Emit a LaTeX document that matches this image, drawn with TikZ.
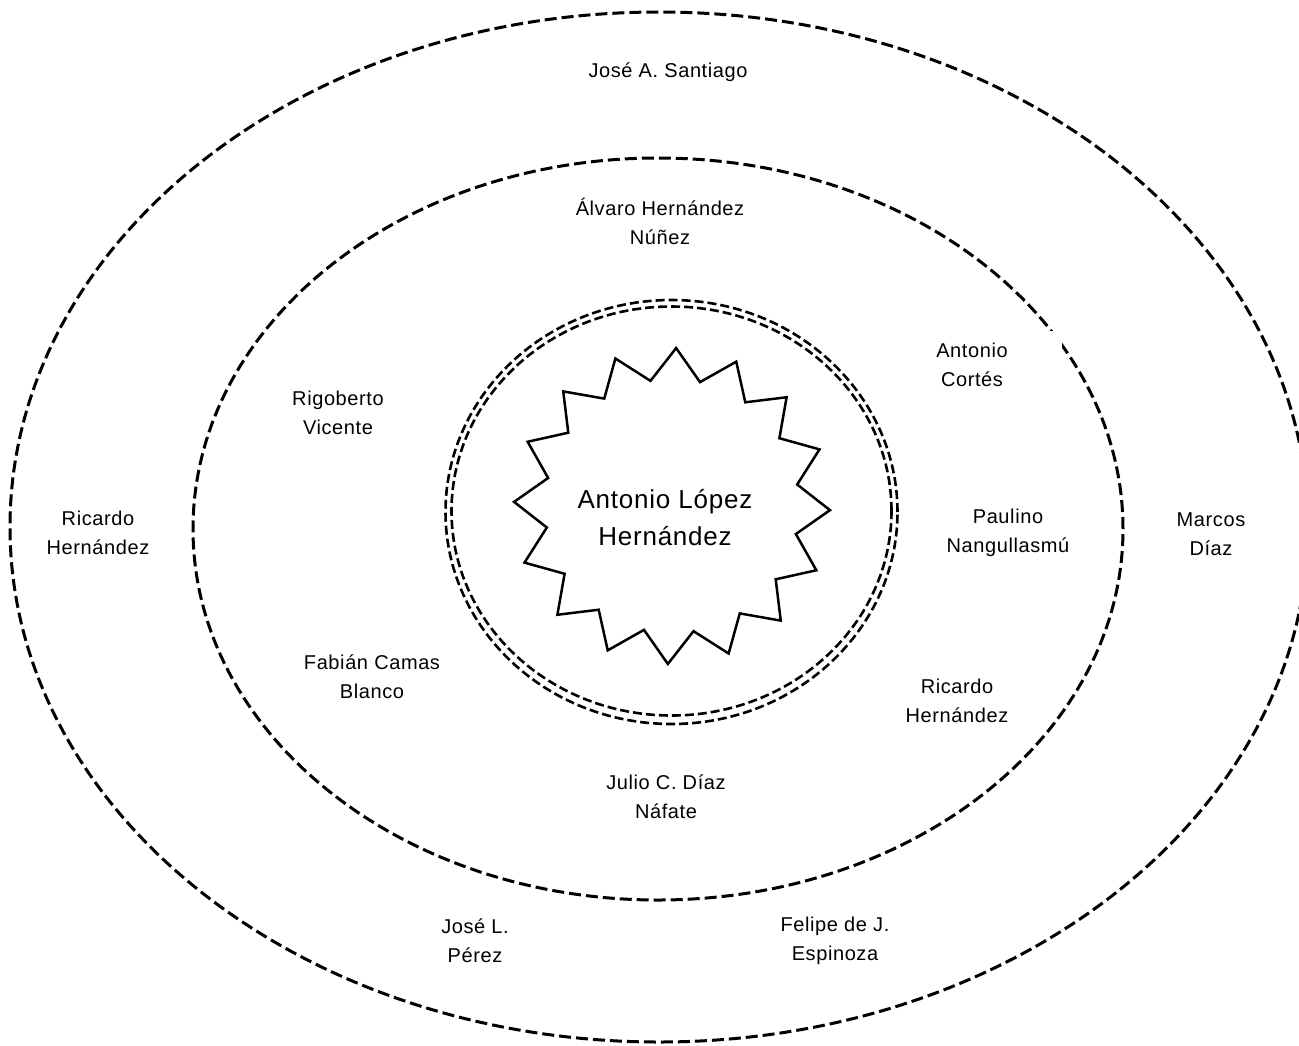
\documentclass[tikz,border=0pt]{standalone}
\usepackage{fontspec}
\setmainfont[LetterSpace=3]{Liberation Sans}
\begin{document}
\begin{tikzpicture}[x=1pt,y=-1pt,
  ring/.style={draw=black,line width=3pt,dash pattern=on 12pt off 5pt},
  innerring/.style={draw=black,line width=2.6pt,dash pattern=on 9pt off 4pt},
  starline/.style={draw=black,line width=2.5pt,line join=miter},
  lbl/.style={align=center,inner sep=0pt,font=\fontsize{20}{29}\selectfont},
  centerlbl/.style={align=center,inner sep=0pt,font=\fontsize{26}{37}\selectfont}]
\useasboundingbox (0,0) rectangle (1299,1045);
\clip (0,0) rectangle (1299,1045);
% ellipses
\draw[ring] (659,527) ellipse [x radius=649pt, y radius=515pt];
\draw[ring] (658,529) ellipse [x radius=465pt, y radius=371pt];
\fill[white] (1049,331) rectangle (1062,350);
\draw[innerring] (671.5,512) ellipse [x radius=226pt, y radius=212pt];
\draw[innerring] (671.5,511) ellipse [x radius=220pt, y radius=204.5pt];
% star
\draw[starline] ({672+158*cos(-1.5)},{506-158*sin(-1.5)})
  \foreach \i in {1,...,31} {
    -- ({672+(142.5+15.5*cos(180*\i))*cos(-1.5+11.25*\i)},{506-(142.5+15.5*cos(180*\i))*sin(-1.5+11.25*\i)})
  } -- cycle;
% labels
\node[centerlbl] (center) at (665,518) {Antonio López\\Hernández};
\node[lbl] (santiago) at (668,72) {José A. Santiago};
\node[lbl] (alvaro) at (660,221) {Álvaro Hernández\\Núñez};
\node[lbl] (cortes) at (972,365) {Antonio\\Cortés};
\node[lbl] (rigoberto) at (338,413) {Rigoberto\\Vicente};
\node[lbl] (ricardoL) at (98,533) {Ricardo\\Hernández};
\node[lbl] (paulino) at (1008,533) {Paulino\\Nangullasmú};
\node[lbl] (marcos) at (1211,534) {Marcos\\Díaz};
\node[lbl] (fabian) at (372,677) {Fabián Camas\\Blanco};
\node[lbl] (ricardoR) at (957,701) {Ricardo\\Hernández};
\node[lbl] (julio) at (666,797) {Julio C. Díaz\\Náfate};
\node[lbl] (joseL) at (475,941) {José L.\\Pérez};
\node[lbl] (felipe) at (835,941) {Felipe de J.\\Espinoza};
\end{tikzpicture}
\end{document}
